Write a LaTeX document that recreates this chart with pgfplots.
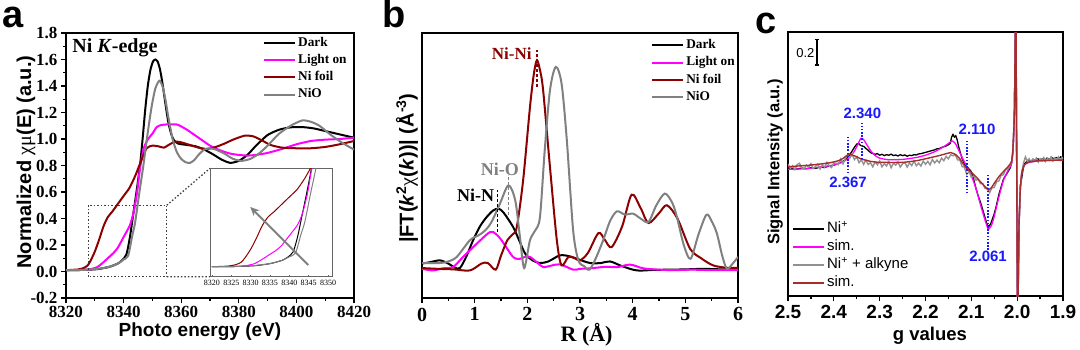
\documentclass[border=0pt]{standalone}
\usepackage{pgfplots}
\pgfplotsset{compat=1.18}
\usepackage{pgfplotstable}
\usepackage{fontspec}
\setmainfont{Liberation Serif}
\newfontfamily\arial{Liberation Sans}
\usetikzlibrary{arrows.meta}
\definecolor{nifoil}{RGB}{139,0,0}
\definecolor{nio}{RGB}{128,128,128}
\definecolor{mag}{RGB}{255,0,255}
\definecolor{simbrown}{RGB}{165,45,45}
\definecolor{eprgray}{RGB}{145,145,145}
\definecolor{bl}{RGB}{25,25,255}

\pgfplotstableread{
E v
8320 0.010
8326 0.012
8331 0.018
8335 0.035
8338 0.06
8339.5 0.085
8341 0.13
8342.2 0.26
8343.4 0.44
8344.6 0.62
8345.7 0.80
8346.6 1.0
8347.5 1.22
8348.4 1.40
8349.3 1.52
8350.2 1.585
8351 1.60
8351.8 1.585
8352.6 1.53
8353.5 1.42
8354.5 1.27
8355.5 1.13
8356.5 1.04
8357.5 0.99
8359 0.965
8362 0.955
8365 0.945
8368 0.92
8371 0.885
8374 0.845
8377 0.82
8380 0.835
8383 0.88
8386 0.95
8390 1.03
8394 1.07
8398 1.088
8402 1.09
8406 1.08
8410 1.06
8415 1.035
8420 1.01
}\darkA

\pgfplotstableread{
E v
8320 0.010
8326 0.012
8329 0.02
8331 0.035
8333 0.07
8335 0.11
8336.5 0.14
8338 0.18
8340 0.26
8342.2 0.35
8343.5 0.45
8344.7 0.6
8345.7 0.78
8347 0.93
8348.5 1.0
8350 1.04
8351.5 1.09
8353 1.105
8355 1.11
8358.4 1.11
8360 1.095
8362 1.07
8364 1.04
8367 0.995
8370 0.95
8373.5 0.915
8377 0.89
8380 0.88
8383 0.875
8386 0.88
8390 0.895
8395 0.925
8400 0.96
8405 0.985
8410 0.995
8415 1.0
8420 1.01
}\lightA

\pgfplotstableread{
E v
8320 0.010
8324 0.015
8326 0.025
8327.5 0.045
8328.5 0.08
8330 0.15
8331.5 0.24
8333 0.34
8334.5 0.41
8336 0.45
8338 0.51
8340 0.57
8342 0.63
8344 0.72
8346 0.83
8348 0.93
8350 0.95
8352 0.945
8354 0.935
8356 0.96
8358 0.98
8360 0.975
8363 0.955
8366 0.935
8369 0.925
8372 0.94
8375 0.965
8378 0.995
8382 1.025
8385 1.02
8388 0.99
8391 0.955
8395 0.935
8400 0.93
8405 0.93
8410 0.94
8415 0.96
8420 0.985
}\foilA

\pgfplotstableread{
E v
8320 0.010
8326 0.012
8331 0.02
8335 0.035
8338 0.06
8340 0.09
8341.6 0.12
8343 0.27
8344 0.37
8345.5 0.6
8346.8 0.79
8348.2 1.02
8349.7 1.24
8351 1.38
8352.4 1.44
8353.5 1.40
8354.5 1.30
8355.5 1.17
8357 1.0
8358.5 0.9
8360 0.85
8361.5 0.825
8363 0.82
8364.5 0.84
8366 0.88
8368 0.92
8370 0.93
8372 0.92
8375 0.89
8378 0.85
8381 0.835
8384 0.85
8387 0.89
8390 0.95
8394 1.04
8398 1.10
8402 1.14
8405 1.13
8408 1.10
8412 1.03
8416 0.97
8420 0.92
}\nioA

\begin{document}
\begin{tikzpicture}
\useasboundingbox (0pt,0pt) rectangle (1080pt,349pt);
\pgfplotsset{
  common/.style={scale only axis, anchor=south west, tick align=outside, tick pos=left,
    axis line style={line width=1.5pt}, major tick length=5pt, minor tick length=3pt,
    every tick/.style={black, line width=1.2pt}, legend cell align=left,
    legend image code/.code={\draw[##1] (0pt,0pt) -- (31pt,0pt);}},
}

% ---------------- panel a ----------------
\begin{axis}[common, at={(66pt,51pt)}, width=288pt, height=265pt,
  xmin=8320, xmax=8420, ymin=-0.2, ymax=1.8,
  xtick={8320,8340,8360,8380,8400,8420}, xticklabels={8320,8340,8360,8380,8400,8420},
  ytick={-0.2,0,0.2,0.4,0.6,0.8,1.0,1.2,1.4,1.6,1.8},
  yticklabels={-0.2,0.0,0.2,0.4,0.6,0.8,1.0,1.2,1.4,1.6,1.8},
  minor x tick num=1, minor y tick num=1,
  tick label style={font=\bfseries\fontsize{17}{20}\selectfont},
  xticklabel style={inner sep=1pt, yshift=-2pt},
  xlabel={Photo energy (eV)},
  xlabel style={font=\arial\bfseries\fontsize{19}{23}\selectfont, inner sep=0pt, at={(axis description cs:0.465,-0.128)}, anchor=center},
  ylabel={Normalized {\rmfamily\mdseries χμ}(E) (a.u.)},
  ylabel style={font=\arial\bfseries\fontsize{20}{24}\selectfont, inner sep=0pt, at={(axis description cs:-0.139,0.513)}, anchor=center},
  legend style={draw=none, fill=none, at={(axis description cs:0.684,0.994)}, anchor=north west,
    font=\bfseries\fontsize{13.3}{16}\selectfont, inner sep=0pt, row sep=0.7pt,
    nodes={inner sep=2pt, text height=9.5pt, text depth=3pt}},
]
\addplot[black, line width=2pt, smooth, tension=0.4] table[x=E,y=v]{\darkA};
\addlegendentry{Dark}
\addplot[mag, line width=2pt, smooth, tension=0.4] table[x=E,y=v]{\lightA};
\addlegendentry{Light on}
\addplot[nifoil, line width=2pt, smooth, tension=0.4] table[x=E,y=v]{\foilA};
\addlegendentry{Ni foil}
\addplot[nio, line width=2pt, smooth, tension=0.4] table[x=E,y=v]{\nioA};
\addlegendentry{NiO}
\node[anchor=west, font=\bfseries\fontsize{20}{24}\selectfont] at (axis cs:8321,1.687) {Ni \textit{K}-edge};
\draw[black!75, line width=1.3pt, dash pattern=on 1.5pt off 2pt] (axis cs:8327.7,-0.04) rectangle (axis cs:8355,0.5);
\draw[black!75, line width=1.3pt, dash pattern=on 1.5pt off 2pt] (axis cs:8355,0.5) -- (axis cs:8370,0.779);
\draw[black!75, line width=1.3pt, dash pattern=on 1.5pt off 2pt] (axis cs:8355,-0.04) -- (axis cs:8370,-0.039);
\end{axis}

% ---------------- inset ----------------
\begin{axis}[scale only axis, anchor=south west, at={(210pt,72.3pt)}, width=122.7pt, height=108.4pt,
  xmin=8319.5, xmax=8351.2, ymin=-0.07, ymax=0.80,
  xtick={8320,8325,8330,8335,8340,8345,8350}, xticklabels={8320,8325,8330,8335,8340,8345,8350},
  ytick=\empty, tick pos=left, tick align=inside, major tick length=2pt,
  axis background/.style={fill=white},
  axis line style={black!60, line width=1pt}, every tick/.style={black!60, line width=0.6pt},
  tick label style={font=\fontsize{8}{9}\selectfont},
]
\addplot[black, line width=1pt, smooth, tension=0.4] table[x=E,y=v]{\darkA};
\addplot[mag, line width=1pt, smooth, tension=0.4] table[x=E,y=v]{\lightA};
\addplot[nifoil, line width=1pt, smooth, tension=0.4] table[x=E,y=v]{\foilA};
\addplot[nio, line width=1pt, smooth, tension=0.4] table[x=E,y=v]{\nioA};
\draw[-{Stealth[length=9pt,width=8pt]}, line width=2pt, black!50] (axis cs:8344.9,0.024) -- (axis cs:8329.9,0.49);
\end{axis}

% ---------------- panel b ----------------
\begin{axis}[common, at={(422pt,51pt)}, width=316pt, height=265pt,
  xmin=0, xmax=6, ymin=0, ymax=10,
  xtick={0,1,2,3,4,5,6}, xticklabels={0,1,2,3,4,5,6}, ytick=\empty,
  minor x tick num=1,
  tick label style={font=\bfseries\fontsize{20}{24}\selectfont},
  xticklabel style={inner sep=1pt, yshift=-3.5pt},
  xlabel={R (Å)},
  xlabel style={font=\bfseries\fontsize{22}{26}\selectfont, inner sep=0pt, at={(axis description cs:0.521,-0.14)}, anchor=center},
  ylabel={|FT(\textit{k}\textsuperscript{2}{\rmfamily\mdseries χ}(\textit{k}))| (Å\textsuperscript{-3})},
  ylabel style={font=\arial\bfseries\fontsize{20}{24}\selectfont, inner sep=0pt, at={(axis description cs:-0.0475,0.49)}, anchor=center},
  legend style={draw=none, fill=none, at={(axis description cs:0.725,0.985)}, anchor=north west,
    font=\bfseries\fontsize{13.3}{16}\selectfont, inner sep=0pt, row sep=0.7pt,
    nodes={inner sep=2pt, text height=9.5pt, text depth=3pt}},
]
\addplot[black, line width=2pt, smooth, tension=0.5] coordinates {
(0,1.3) (0.15,1.35) (0.34,1.42) (0.5,1.3) (0.62,1.15) (0.72,1.13) (0.85,1.6) (0.97,2.18) (1.1,2.7) (1.23,3.06) (1.35,3.3) (1.45,3.37) (1.55,3.22) (1.73,2.68) (1.85,2.15) (1.96,1.67) (2.1,1.42) (2.24,1.32) (2.4,1.38) (2.62,1.61) (2.81,1.57) (2.94,1.48) (3.19,1.32) (3.4,1.32) (3.57,1.38) (3.8,1.2) (4.08,1.04) (4.4,1.06) (4.71,1.07) (5.0,1.08) (5.34,1.1) (5.7,1.08) (6,1.07)};
\addlegendentry{Dark}
\addplot[mag, line width=2pt, smooth, tension=0.5] coordinates {
(0,1.1) (0.21,1.04) (0.4,1.12) (0.59,1.17) (0.78,1.55) (1.04,2.05) (1.29,2.49) (1.4,2.42) (1.51,2.18) (1.73,1.55) (1.86,1.48) (1.95,1.55) (2.05,1.55) (2.18,1.35) (2.3,1.17) (2.45,1.22) (2.62,1.27) (2.87,1.07) (3.0,1.1) (3.2,1.12) (3.5,1.18) (3.7,1.16) (3.95,1.26) (4.2,1.12) (4.5,1.07) (4.8,1.05) (5.1,1.07) (5.5,1.05) (6,1.05)};
\addlegendentry{Light on}
\addplot[nifoil, line width=2pt, smooth, tension=0.5] coordinates {
(0,1.13) (0.3,1.1) (0.6,1.08) (0.91,1.04) (1.13,1.3) (1.25,1.32) (1.4,1.07) (1.5,1.6) (1.62,2.18) (1.72,2.4) (1.8,2.68) (1.92,4.44) (2.05,7.2) (2.12,8.4) (2.18,8.97) (2.24,8.6) (2.3,7.84) (2.43,4.94) (2.56,2.18) (2.65,1.23) (2.78,1.55) (2.9,1.5) (3.0,1.42) (3.15,1.7) (3.35,2.45) (3.47,2.2) (3.6,1.92) (3.8,2.7) (3.98,3.9) (4.15,3.4) (4.3,2.83) (4.5,3.2) (4.65,3.5) (4.85,3.0) (5.09,1.86) (5.3,1.5) (5.53,1.23) (5.79,1.14) (6,1.14)};
\addlegendentry{Ni foil}
\addplot[nio, line width=2pt, smooth, tension=0.5] coordinates {
(0,1.32) (0.34,1.32) (0.5,1.38) (0.66,1.55) (0.91,2.18) (1.07,2.36) (1.2,2.55) (1.32,2.87) (1.48,3.56) (1.64,4.25) (1.77,3.69) (1.86,2.3) (1.94,1.13) (2.05,2.18) (2.15,2.55) (2.24,3.06) (2.33,5.57) (2.43,7.84) (2.54,8.72) (2.65,8.09) (2.75,5.95) (2.87,2.55) (2.97,1.42) (3.08,1.2) (3.18,1.07) (3.3,1.5) (3.44,2.18) (3.57,2.9) (3.7,3.27) (3.85,3.15) (4.01,3.18) (4.15,3.0) (4.3,2.87) (4.45,3.5) (4.61,3.94) (4.75,3.6) (4.84,3.06) (4.97,2.0) (5.1,1.48) (5.25,2.4) (5.4,3.14) (5.5,2.9) (5.6,2.43) (5.7,1.6) (5.79,1.1) (5.9,1.3) (6.0,1.55)};
\addlegendentry{NiO}
\node[font=\bfseries\fontsize{17}{20}\selectfont, text=nifoil] at (axis cs:1.703,9.23) {Ni-Ni};
\draw[nifoil, line width=2.2pt, dash pattern=on 3pt off 2pt] (axis cs:2.18,7.96) -- (axis cs:2.18,9.36);
\node[font=\bfseries\fontsize{18}{20}\selectfont, text=nio] at (axis cs:1.48,4.87) {Ni-O};
\draw[nio, line width=1.6pt, dash pattern=on 3pt off 2pt] (axis cs:1.64,3.13) -- (axis cs:1.64,4.64);
\node[font=\bfseries\fontsize{18}{20}\selectfont] at (axis cs:1.02,3.86) {Ni-N};
\draw[black, line width=1.6pt, dash pattern=on 3pt off 2pt] (axis cs:1.43,2.5) -- (axis cs:1.43,4.08);
\end{axis}

% ---------------- panel c ----------------
\begin{axis}[common, at={(788pt,53pt)}, width=275pt, height=264pt,
  x dir=reverse, xmin=1.9, xmax=2.5, ymin=-1.042, ymax=1.0205,
  xtick={1.9,2.0,2.1,2.2,2.3,2.4,2.5}, xticklabels={1.9,2.0,2.1,2.2,2.3,2.4,2.5}, ytick=\empty,
  minor x tick num=1,
  tick label style={font=\arial\bfseries\fontsize{19}{22}\selectfont},
  xticklabel style={inner sep=1pt, yshift=-3pt},
  xlabel={g values},
  xlabel style={font=\arial\bfseries\fontsize{18.5}{22}\selectfont, inner sep=0pt, at={(axis description cs:0.516,-0.15)}, anchor=center},
  ylabel={Signal Intensity (a.u.)},
  ylabel style={font=\arial\bfseries\fontsize{16.5}{20}\selectfont, inner sep=0pt, at={(axis description cs:-0.047,0.508)}, anchor=center},
  legend image code/.code={\draw[#1, line width=1.8pt] (0pt,0pt) -- (31pt,0pt);},
  legend style={draw=none, fill=none, at={(axis description cs:0.015,0.288)}, anchor=north west,
    font=\arial\fontsize{15}{18}\selectfont, inner sep=0pt, row sep=0.3pt,
    nodes={inner sep=2pt, text height=10.5pt, text depth=3.3pt}},
]
\addplot[black, line width=1.3pt] coordinates {
(2.500,-0.05) (2.490,-0.045) (2.480,-0.05) (2.470,-0.042) (2.460,-0.048) (2.450,-0.04) (2.440,-0.045) (2.430,-0.035) (2.420,-0.038) (2.410,-0.025) (2.400,-0.02) (2.390,-0.005) (2.380,0.01) (2.370,0.04) (2.362,0.08) (2.355,0.12) (2.350,0.145) (2.346,0.15) (2.342,0.135) (2.338,0.13) (2.334,0.125) (2.330,0.11) (2.326,0.1) (2.322,0.085) (2.318,0.075) (2.314,0.07) (2.310,0.065) (2.305,0.07) (2.300,0.058) (2.295,0.065) (2.290,0.055) (2.285,0.062) (2.280,0.058) (2.275,0.066) (2.270,0.055) (2.265,0.06) (2.260,0.052) (2.255,0.062) (2.250,0.055) (2.245,0.06) (2.240,0.05) (2.235,0.058) (2.230,0.055) (2.225,0.062) (2.220,0.06) (2.215,0.068) (2.210,0.07) (2.205,0.075) (2.200,0.08) (2.195,0.085) (2.190,0.09) (2.185,0.095) (2.180,0.1) (2.175,0.108) (2.170,0.11) (2.165,0.118) (2.160,0.125) (2.155,0.13) (2.150,0.14) (2.146,0.15) (2.143,0.2) (2.140,0.22) (2.137,0.2) (2.134,0.21) (2.131,0.18) (2.128,0.13) (2.125,0.09) (2.120,0.03) (2.115,-0.01) (2.110,-0.03) (2.105,-0.05) (2.100,-0.07) (2.095,-0.13) (2.090,-0.2) (2.085,-0.26) (2.080,-0.31) (2.075,-0.37) (2.070,-0.43) (2.066,-0.48) (2.062,-0.5) (2.058,-0.48) (2.054,-0.44) (2.050,-0.4) (2.045,-0.33) (2.040,-0.25) (2.035,-0.19) (2.030,-0.13) (2.025,-0.1) (2.020,-0.07) (2.015,-0.04) (2.012,0.0) (2.009,0.1) (2.006,0.4) (2.003,1.3) (2.001,0) (1.999,-1.3) (1.996,-0.5) (1.993,-0.18) (1.990,-0.12) (1.987,-0.05) (1.984,-0.01) (1.980,0.005) (1.975,0.02) (1.970,0.01) (1.965,0.025) (1.960,0.015) (1.955,0.03) (1.950,0.02) (1.945,0.03) (1.940,0.015) (1.935,0.035) (1.930,0.025) (1.925,0.04) (1.920,0.03) (1.915,0.04) (1.910,0.03) (1.905,0.045) (1.900,0.035)};
\addlegendentry{Ni\textsuperscript{+}}
\addplot[mag, line width=1.3pt, smooth, tension=0.3] coordinates {
(2.5,-0.053) (2.46,-0.047) (2.42,-0.03) (2.40,-0.019) (2.38,0.005) (2.365,0.045) (2.355,0.09) (2.348,0.14) (2.341,0.19) (2.335,0.18) (2.328,0.14) (2.32,0.095) (2.31,0.055) (2.30,0.035) (2.28,0.022) (2.25,0.025) (2.22,0.04) (2.2,0.058) (2.18,0.085) (2.16,0.125) (2.15,0.15) (2.142,0.17) (2.135,0.15) (2.128,0.1) (2.12,0.04) (2.11,-0.03) (2.10,-0.1) (2.09,-0.2) (2.08,-0.33) (2.07,-0.45) (2.063,-0.52) (2.056,-0.49) (2.05,-0.42) (2.04,-0.27) (2.03,-0.14) (2.02,-0.06) (2.012,-0.005) (2.009,0.1) (2.006,0.4) (2.003,1.3) (2.001,0) (1.999,-1.3) (1.996,-0.5) (1.993,-0.2) (1.99,-0.08) (1.985,-0.02) (1.975,0.0) (1.95,0.015) (1.9,0.02)};
\addlegendentry{sim.}
\addplot[eprgray, line width=1.4pt] coordinates {
(2.500,-0.010) (2.495,-0.045) (2.490,-0.025) (2.485,-0.055) (2.480,-0.015) (2.475,-0.005) (2.470,-0.040) (2.465,-0.050) (2.460,-0.020) (2.455,-0.035) (2.450,-0.008) (2.445,-0.048) (2.440,-0.030) (2.435,-0.012) (2.430,-0.050) (2.425,-0.018) (2.420,-0.037) (2.415,0.003) (2.410,-0.025) (2.405,-0.038) (2.400,-0.003) (2.395,-0.005) (2.390,-0.015) (2.385,0.028) (2.380,-0.010) (2.375,0.034) (2.370,0.056) (2.365,0.036) (2.360,0.065) (2.355,0.024) (2.350,0.044) (2.345,0.000) (2.340,0.022) (2.335,-0.013) (2.330,0.020) (2.325,-0.014) (2.320,-0.001) (2.315,-0.033) (2.310,0.006) (2.305,-0.017) (2.300,0.012) (2.295,-0.033) (2.290,-0.009) (2.285,-0.026) (2.280,0.006) (2.275,-0.040) (2.270,-0.005) (2.265,-0.019) (2.260,0.003) (2.255,-0.035) (2.250,-0.009) (2.245,0.001) (2.240,-0.035) (2.235,-0.002) (2.230,-0.023) (2.225,0.012) (2.220,-0.025) (2.215,-0.004) (2.210,-0.027) (2.205,0.012) (2.200,-0.013) (2.195,0.010) (2.190,-0.017) (2.185,0.024) (2.180,-0.002) (2.175,0.019) (2.170,-0.001) (2.165,0.035) (2.160,0.015) (2.155,0.049) (2.150,0.030) (2.145,0.062) (2.140,0.054) (2.135,0.062) (2.130,0.021) (2.125,0.020) (2.120,-0.032) (2.115,-0.035) (2.110,-0.093) (2.105,-0.068) (2.100,-0.115) (2.095,-0.102) (2.090,-0.137) (2.085,-0.130) (2.080,-0.165) (2.075,-0.164) (2.070,-0.202) (2.065,-0.198) (2.060,-0.235) (2.055,-0.197) (2.050,-0.195) (2.045,-0.150) (2.040,-0.143) (2.035,-0.100) (2.030,-0.095) (2.025,-0.054) (2.020,-0.046) (2.015,-0.015) (2.012,0.01) (2.009,0.1) (2.006,0.4) (2.003,1.3) (2.001,0) (1.999,-1.3) (1.996,-0.5) (1.993,-0.2) (1.990,-0.08) (1.986,0.0) (1.982,0.045) (1.978,0.01) (1.974,0.03) (1.970,0.005) (1.966,0.028) (1.962,0.012) (1.958,0.035) (1.954,0.004) (1.950,0.03) (1.946,0.015) (1.942,0.04) (1.938,0.01) (1.934,0.032) (1.930,0.02) (1.926,0.045) (1.922,0.012) (1.918,0.038) (1.914,0.022) (1.910,0.045) (1.906,0.018) (1.902,0.04) (1.900,0.03)};
\addlegendentry{Ni\textsuperscript{+} + alkyne}
\addplot[simbrown, line width=1.4pt, smooth, tension=0.3] coordinates {
(2.5,-0.032) (2.45,-0.019) (2.41,-0.002) (2.39,0.015) (2.38,0.033) (2.372,0.055) (2.367,0.067) (2.36,0.06) (2.35,0.046) (2.34,0.028) (2.32,0.01) (2.3,0.002) (2.25,0.002) (2.22,0.015) (2.2,0.03) (2.17,0.055) (2.155,0.07) (2.145,0.078) (2.135,0.065) (2.125,0.03) (2.12,0.0) (2.11,-0.045) (2.1,-0.075) (2.09,-0.11) (2.08,-0.15) (2.07,-0.188) (2.063,-0.214) (2.056,-0.195) (2.05,-0.162) (2.04,-0.11) (2.03,-0.07) (2.02,-0.032) (2.012,0.01) (2.009,0.12) (2.006,0.4) (2.003,1.3) (2.001,0) (1.999,-1.3) (1.996,-0.5) (1.993,-0.2) (1.99,-0.08) (1.985,-0.02) (1.975,0.005) (1.95,0.015) (1.9,0.02)};
\addlegendentry{sim.}
% scale bar
\draw[black, line width=1.3pt] (axis cs:2.437,0.763) -- (axis cs:2.437,0.963);
\draw[black, line width=1.3pt] (axis cs:2.442,0.763) -- (axis cs:2.432,0.763);
\draw[black, line width=1.3pt] (axis cs:2.442,0.963) -- (axis cs:2.432,0.963);
\node[font=\arial\fontsize{13}{15}\selectfont] at (axis cs:2.462,0.854) {0.2};
% g markers
\draw[bl, line width=2pt, dash pattern=on 1.6pt off 1.6pt] (axis cs:2.3385,0.026) -- (axis cs:2.3385,0.312);
\draw[bl, line width=2pt, dash pattern=on 1.6pt off 1.6pt] (axis cs:2.369,-0.084) -- (axis cs:2.369,0.202);
\draw[bl, line width=2pt, dash pattern=on 1.6pt off 1.6pt] (axis cs:2.109,-0.24) -- (axis cs:2.109,0.177);
\draw[bl, line width=2pt, dash pattern=on 1.6pt off 1.6pt] (axis cs:2.063,-0.683) -- (axis cs:2.063,-0.084);
\node[font=\arial\bfseries\fontsize{15}{18}\selectfont, text=bl] at (axis cs:2.3377,0.385) {2.340};
\node[font=\arial\bfseries\fontsize{15}{18}\selectfont, text=bl] at (axis cs:2.369,-0.157) {2.367};
\node[font=\arial\bfseries\fontsize{15}{18}\selectfont, text=bl] at (axis cs:2.0876,0.26) {2.110};
\node[font=\arial\bfseries\fontsize{15}{18}\selectfont, text=bl] at (axis cs:2.0636,-0.735) {2.061};
\end{axis}

% panel letters
\node[anchor=base west, font=\arial\bfseries\fontsize{38}{40}\selectfont, inner sep=0pt] at (2pt,321pt) {a};
\node[anchor=base west, font=\arial\bfseries\fontsize{38}{40}\selectfont, inner sep=0pt] at (382pt,321pt) {b};
\node[anchor=base west, font=\arial\bfseries\fontsize{38}{40}\selectfont, inner sep=0pt] at (755pt,316pt) {c};
\end{tikzpicture}
\end{document}
